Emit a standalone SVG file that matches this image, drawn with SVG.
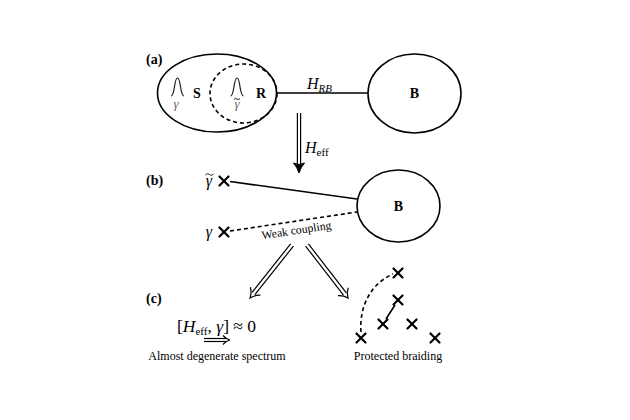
<svg xmlns="http://www.w3.org/2000/svg" width="630" height="420" viewBox="0 0 630 420" font-family="'Liberation Serif', 'DejaVu Serif', 'Times New Roman', serif">
<style>
text{font-family:'Liberation Serif','DejaVu Serif','Times New Roman',serif;fill:#000}
.lbl{font-size:14px;font-weight:bold}
.node{fill:none;stroke:#000;stroke-width:1.6}
.dash{fill:none;stroke:#000;stroke-width:1.6;stroke-dasharray:4 3}
.ln{fill:none;stroke:#000;stroke-width:1.6}
.cross{stroke:#000;stroke-width:2.2;stroke-linecap:round}
.bell{fill:none;stroke:#222;stroke-width:1.2}
.gray{fill:#666}
.it{font-style:italic}
.dbl{fill:none;stroke:#000;stroke-width:1.2}
.tl{fill:none;stroke:#000;stroke-width:0.9}
.cap{font-size:12px}
</style>
<defs>
<g id="cross"><line class="cross" x1="-4.5" y1="-4.5" x2="4.5" y2="4.5"/><line class="cross" x1="-4.5" y1="4.5" x2="4.5" y2="-4.5"/></g>
</defs>
<rect width="630" height="420" fill="#fff"/>
<text x="146" y="64" font-size="14" font-weight="bold">(a)</text>
<text x="146" y="185" font-size="14" font-weight="bold">(b)</text>
<text x="146" y="303" font-size="14" font-weight="bold">(c)</text>

<g id="SR">
<ellipse class="node" cx="217" cy="93" rx="59.5" ry="39"/>
<path class="bell" d="M171,96 C175,96 174,78 177.5,78 C181,78 180,96 184,96"/>
<text x="176" y="108" font-size="13" class="it gray" text-anchor="middle">γ</text>
<text x="197" y="98" class="lbl" text-anchor="middle">S</text>
</g>
<g id="R">
<ellipse class="dash" cx="243.5" cy="93.5" rx="33.5" ry="29.5"/>
<path class="bell" d="M230.5,96 C234.5,96 233.5,78 237,78 C240.5,78 239.5,96 243.5,96"/>
<text x="237" y="108" font-size="13" class="it gray" text-anchor="middle">γ</text>
<path class="tl" stroke="#666" d="M234,99.5 q1.5,-2 3,-0.5 t3,-0.5"/>
<text x="261" y="98" class="lbl" text-anchor="middle">R</text>
</g>
<g id="Ba">
<ellipse class="node" cx="414.5" cy="93.5" rx="46.5" ry="39.5"/>
<text x="414.5" y="98" class="lbl" text-anchor="middle">B</text>
</g>
<g id="Bb">
<ellipse class="node" cx="398.5" cy="206" rx="41.5" ry="36"/>
<text x="398.5" y="211" class="lbl" text-anchor="middle">B</text>
</g>
<g id="majoranas">
<use href="#cross" x="224" y="181"/>
<text x="209" y="186" font-size="16" class="it" text-anchor="middle">γ</text>
<path class="tl" d="M205.5,175 q2,-2.5 4,-0.5 t4,-0.5"/>
<use href="#cross" x="224" y="232"/>
<text x="209" y="237" font-size="16" class="it" text-anchor="middle">γ</text>
</g>
<g id="braiding">
<use href="#cross" x="398" y="273"/>
<use href="#cross" x="398" y="300"/>
<use href="#cross" x="383" y="324"/>
<use href="#cross" x="412" y="324"/>
<use href="#cross" x="361" y="338"/>
<use href="#cross" x="435" y="338"/>
<line class="ln" x1="395" y1="305" x2="386" y2="319"/>
<path class="dash" d="M361,332 C359,305 372,283 393,274"/>
<text x="398" y="360" class="cap" text-anchor="middle">Protected braiding</text>
</g>
<g id="spectrum">
<text x="177" y="332" font-size="17.5">[<tspan class="it">H</tspan><tspan font-size="11" dy="3">eff</tspan><tspan dy="-3">, </tspan><tspan class="it">γ</tspan>] ≈ 0</text>
<line class="dbl" x1="204" y1="338.5" x2="226" y2="338.5" stroke-width="0.9"/>
<line class="dbl" x1="204" y1="341.5" x2="226" y2="341.5" stroke-width="0.9"/>
<path class="dbl" stroke-width="1" d="M223,335.5 Q226,339 230,340 Q226,341 223,344.5"/>
<text x="217" y="360" class="cap" text-anchor="middle">Almost degenerate spectrum</text>
</g>
<g id="connectors">
<line class="ln" x1="277" y1="93" x2="368" y2="93"/>
<text x="307" y="89" font-size="16" class="it">H<tspan font-size="11" dy="3">RB</tspan></text>
<line class="ln" x1="230" y1="181.5" x2="357" y2="199"/>
<line class="dash" x1="230" y1="231" x2="357" y2="212"/>
<text transform="translate(297,234) rotate(-8.5)" font-size="11.7" text-anchor="middle">Weak coupling</text>
<g transform="translate(299,113) rotate(90)">
<line class="dbl" x1="0" y1="-1.6" x2="54" y2="-1.6"/>
<line class="dbl" x1="0" y1="1.6" x2="54" y2="1.6"/>
<path fill="#000" stroke="#000" stroke-width="1" d="M50,-5.5 Q54,-2 60,0 Q54,2 50,5.5 Q53,0 50,-5.5Z"/>
</g>
<text x="305" y="153" font-size="16" class="it">H<tspan font-size="11" dy="3" font-style="normal">eff</tspan></text>
<g transform="translate(292,245) rotate(128.4)">
<line class="dbl" x1="0" y1="-1.8" x2="62" y2="-1.8"/>
<line class="dbl" x1="0" y1="1.8" x2="62" y2="1.8"/>
<path class="dbl" stroke-width="1.6" d="M59,-6.5 Q62,-2 67.5,0 Q62,2 59,6.5"/>
</g>
<g transform="translate(307,245) rotate(52.3)">
<line class="dbl" x1="0" y1="-1.8" x2="62" y2="-1.8"/>
<line class="dbl" x1="0" y1="1.8" x2="62" y2="1.8"/>
<path class="dbl" stroke-width="1.6" d="M59,-6.5 Q62,-2 67,0 Q62,2 59,6.5"/>
</g>
</g>
</svg>
